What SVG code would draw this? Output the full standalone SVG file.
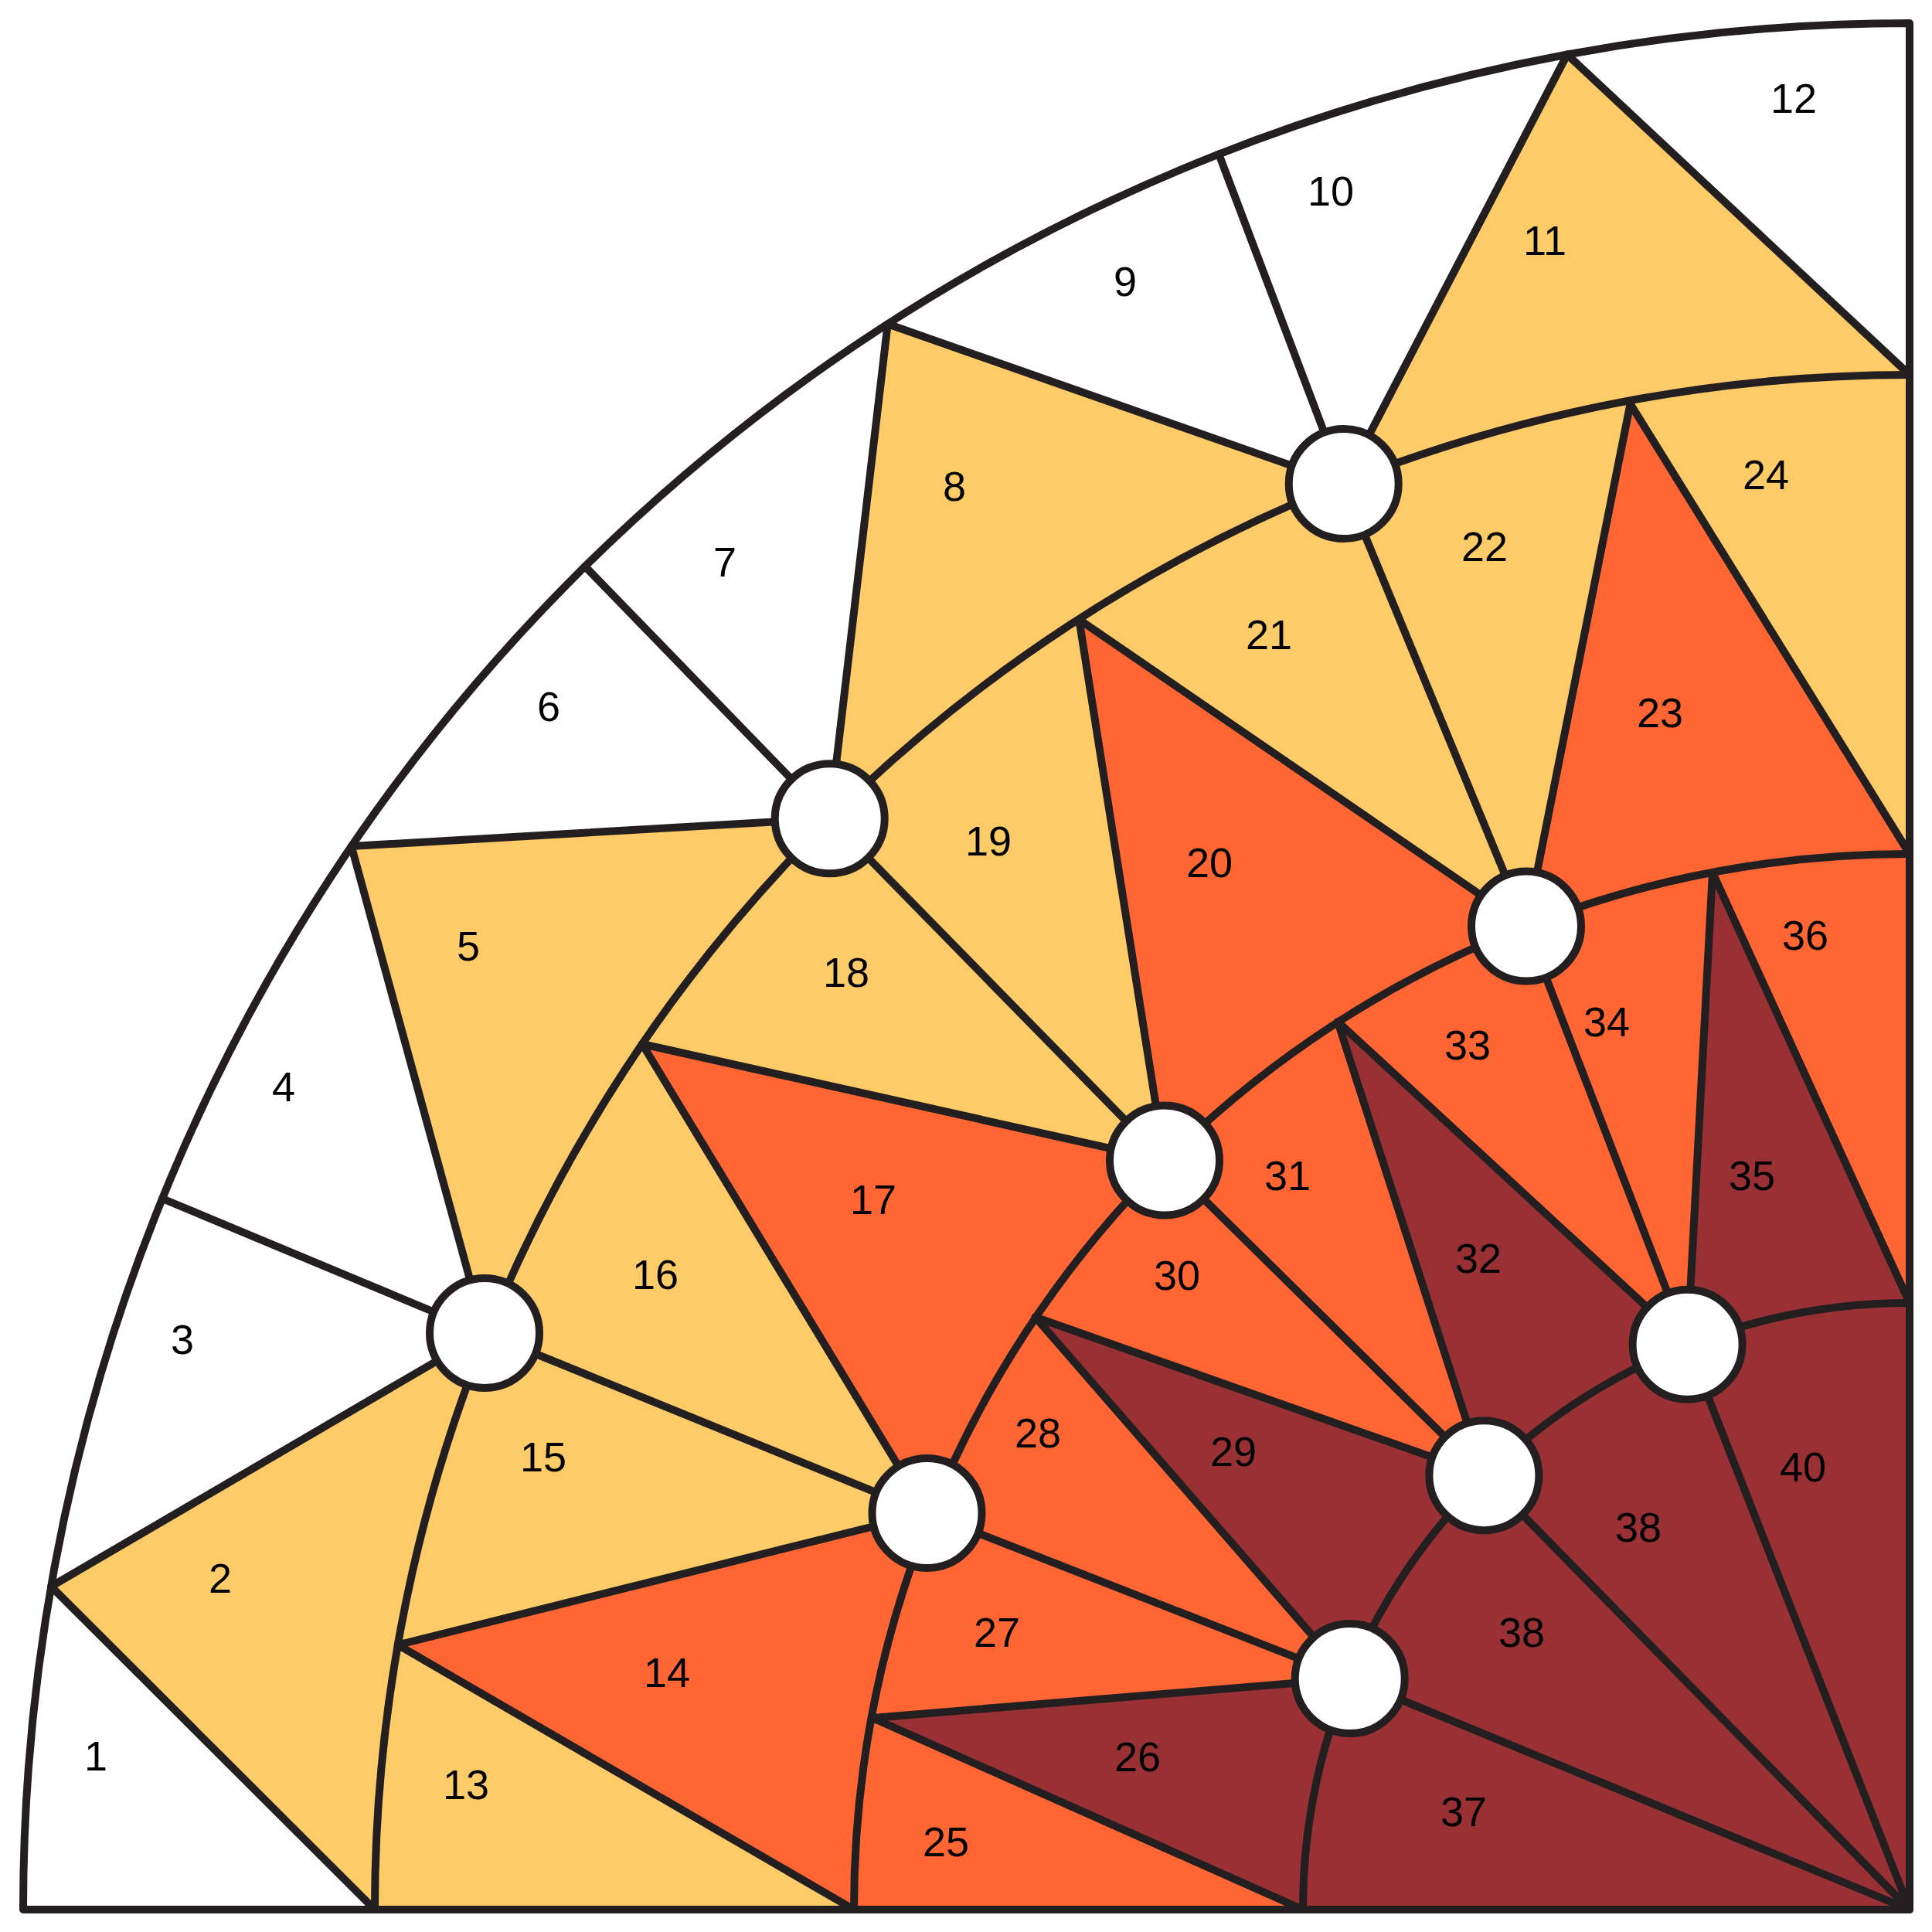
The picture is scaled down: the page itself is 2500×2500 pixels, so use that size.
<svg xmlns="http://www.w3.org/2000/svg" width="2500" height="2500" viewBox="0 0 2500 2500">
<style>
.w{fill:#FFFFFF}
.y{fill:#FDCB67}
.o{fill:#FF6633}
.d{fill:#993033}
.ln{fill:none;stroke:#231F20;stroke-width:10;stroke-linecap:round;stroke-linejoin:round}
.node{fill:#FFFFFF;stroke:#231F20;stroke-width:10}
.lb{font-family:"Liberation Sans",Arial,sans-serif;font-size:54px;fill:#000000;text-anchor:middle}
</style>
<rect width="2500" height="2500" fill="#FFFFFF"/>
<g id="regions">
<path id="r1" class="w" d="M30,2471 A2441,2441 0 0 1 66.1,2052.9 L485,2471 Z"/>
<path id="r2" class="y" d="M66.1,2052.9 L627,1725 A1986,1986 0 0 0 485,2471 Z"/>
<path id="r3" class="w" d="M66.1,2052.9 A2441,2441 0 0 1 210,1551 L627,1725 Z"/>
<path id="r4" class="w" d="M210,1551 A2441,2441 0 0 1 454.7,1095 L627,1725 Z"/>
<path id="r5" class="y" d="M454.7,1095 L627,1725 A1986,1986 0 0 1 1073.7,1059.3 Z"/>
<path id="r6" class="w" d="M454.7,1095 A2441,2441 0 0 1 757,732.9 L1073.7,1059.3 Z"/>
<path id="r7" class="w" d="M757,732.9 A2441,2441 0 0 1 1148.7,419.2 L1073.7,1059.3 Z"/>
<path id="r8" class="y" d="M1148.7,419.2 L1073.7,1059.3 A1986,1986 0 0 1 1738.7,626.1 Z"/>
<path id="r9" class="w" d="M1148.7,419.2 A2441,2441 0 0 1 1577.2,199.5 L1738.7,626.1 Z"/>
<path id="r10" class="w" d="M1577.2,199.5 A2441,2441 0 0 1 2027.9,70.6 L1738.7,626.1 Z"/>
<path id="r11" class="y" d="M2027.9,70.6 L1738.7,626.1 A1986,1986 0 0 1 2471,485 Z"/>
<path id="r12" class="w" d="M2027.9,70.6 A2441,2441 0 0 1 2471,30 L2471,485 Z"/>
<path id="r13" class="y" d="M485,2471 A1986,1986 0 0 1 514.8,2128.5 L1105,2471 Z"/>
<path id="r14" class="o" d="M514.8,2128.5 L1105,2471 A1366,1366 0 0 1 1199.5,1958 Z"/>
<path id="r15" class="y" d="M514.8,2128.5 L1199.5,1958 L627,1725 A1986,1986 0 0 0 514.8,2128.5 Z"/>
<path id="r16" class="y" d="M627,1725 L1199.5,1958 L831,1351 A1986,1986 0 0 0 627,1725 Z"/>
<path id="r17" class="o" d="M831,1351 L1199.5,1958 A1366,1366 0 0 1 1507,1501.6 Z"/>
<path id="r18" class="y" d="M831,1351 L1507,1501.6 L1073.7,1059.3 A1986,1986 0 0 0 831,1351 Z"/>
<path id="r19" class="y" d="M1073.7,1059.3 L1507,1501.6 L1396.3,801.6 A1986,1986 0 0 0 1073.7,1059.3 Z"/>
<path id="r20" class="o" d="M1396.3,801.6 L1507,1501.6 A1366,1366 0 0 1 1975,1198.6 Z"/>
<path id="r21" class="y" d="M1396.3,801.6 L1975,1198.6 L1738.7,626.1 A1986,1986 0 0 0 1396.3,801.6 Z"/>
<path id="r22" class="y" d="M1738.7,626.1 L1975,1198.6 L2109.6,522.6 A1986,1986 0 0 0 1738.7,626.1 Z"/>
<path id="r23" class="o" d="M2109.6,522.6 L1975,1198.6 A1366,1366 0 0 1 2471,1105 Z"/>
<path id="r24" class="y" d="M2109.6,522.6 L2471,1105 L2471,485 A1986,1986 0 0 0 2109.6,522.6 Z"/>
<path id="r25" class="o" d="M1105,2471 A1366,1366 0 0 1 1129,2223 L1686,2471 Z"/>
<path id="r26" class="d" d="M1129,2223 L1686,2471 A785,785 0 0 1 1746.7,2172.1 Z"/>
<path id="r27" class="o" d="M1129,2223 L1746.7,2172.1 L1199.5,1958 A1366,1366 0 0 0 1129,2223 Z"/>
<path id="r28" class="o" d="M1199.5,1958 L1746.7,2172.1 L1339.5,1704.3 A1366,1366 0 0 0 1199.5,1958 Z"/>
<path id="r29" class="d" d="M1339.5,1704.3 L1746.7,2172.1 A785,785 0 0 1 1920.4,1909.2 Z"/>
<path id="r30" class="o" d="M1339.5,1704.3 L1920.4,1909.2 L1507,1501.6 A1366,1366 0 0 0 1339.5,1704.3 Z"/>
<path id="r31" class="o" d="M1507,1501.6 L1920.4,1909.2 L1731,1322 A1366,1366 0 0 0 1507,1501.6 Z"/>
<path id="r32" class="d" d="M1731,1322 L1920.4,1909.2 A785,785 0 0 1 2183.6,1739.8 Z"/>
<path id="r33" class="o" d="M1731,1322 L2183.6,1739.8 L1975,1198.6 A1366,1366 0 0 0 1731,1322 Z"/>
<path id="r34" class="o" d="M1975,1198.6 L2183.6,1739.8 L2216,1129 A1366,1366 0 0 0 1975,1198.6 Z"/>
<path id="r35" class="d" d="M2216,1129 L2183.6,1739.8 A785,785 0 0 1 2471,1686 Z"/>
<path id="r36" class="o" d="M2216,1129 L2471,1686 L2471,1105 A1366,1366 0 0 0 2216,1129 Z"/>
<path id="r37-40" class="d" d="M1686,2471 A785,785 0 0 1 2471,1686 L2471,2471 Z"/>
</g>
<g id="connectors" class="ln">
<path d="M30,2471 A2441,2441 0 0 1 2471,30 L2471,2471 Z"/>
<path d="M485,2471 A1986,1986 0 0 1 2471,485"/>
<path d="M1105,2471 A1366,1366 0 0 1 2471,1105"/>
<path d="M1686,2471 A785,785 0 0 1 2471,1686"/>
<path d="M66.1,2052.9 L485,2471 M66.1,2052.9 L627,1725 M210,1551 L627,1725 M454.7,1095 L627,1725 M454.7,1095 L1073.7,1059.3 M757,732.9 L1073.7,1059.3 M1148.7,419.2 L1073.7,1059.3 M1148.7,419.2 L1738.7,626.1 M1577.2,199.5 L1738.7,626.1 M2027.9,70.6 L1738.7,626.1 M2027.9,70.6 L2471,485"/>
<path d="M514.8,2128.5 L1105,2471 M514.8,2128.5 L1199.5,1958 M627,1725 L1199.5,1958 M831,1351 L1199.5,1958 M831,1351 L1507,1501.6 M1073.7,1059.3 L1507,1501.6 M1396.3,801.6 L1507,1501.6 M1396.3,801.6 L1975,1198.6 M1738.7,626.1 L1975,1198.6 M2109.6,522.6 L1975,1198.6 M2109.6,522.6 L2471,1105"/>
<path d="M1129,2223 L1686,2471 M1129,2223 L1746.7,2172.1 M1199.5,1958 L1746.7,2172.1 M1339.5,1704.3 L1746.7,2172.1 M1339.5,1704.3 L1920.4,1909.2 M1507,1501.6 L1920.4,1909.2 M1731,1322 L1920.4,1909.2 M1731,1322 L2183.6,1739.8 M1975,1198.6 L2183.6,1739.8 M2216,1129 L2183.6,1739.8 M2216,1129 L2471,1686"/>
<path d="M1746.7,2172.1 L2471,2471 M1920.4,1909.2 L2471,2471 M2183.6,1739.8 L2471,2471"/>
</g>
<g id="nodes">
<g id="n1"><circle class="node" cx="627" cy="1725" r="71"/></g>
<g id="n2"><circle class="node" cx="1073.7" cy="1059.3" r="71"/></g>
<g id="n3"><circle class="node" cx="1738.7" cy="626.1" r="71"/></g>
<g id="n4"><circle class="node" cx="1199.5" cy="1958" r="71"/></g>
<g id="n5"><circle class="node" cx="1507" cy="1501.6" r="71"/></g>
<g id="n6"><circle class="node" cx="1975" cy="1198.6" r="71"/></g>
<g id="n7"><circle class="node" cx="1746.7" cy="2172.1" r="71"/></g>
<g id="n8"><circle class="node" cx="1920.4" cy="1909.2" r="71"/></g>
<g id="n9"><circle class="node" cx="2183.6" cy="1739.8" r="71"/></g>
</g>
<g id="labels" class="lb">
<text x="124" y="2291">1</text>
<text x="285" y="2061">2</text>
<text x="236" y="1752">3</text>
<text x="367" y="1425">4</text>
<text x="606" y="1243">5</text>
<text x="710" y="933">6</text>
<text x="938" y="746">7</text>
<text x="1235" y="648">8</text>
<text x="1456" y="383">9</text>
<text x="1722" y="266">10</text>
<text x="1999" y="330">11</text>
<text x="2321" y="146">12</text>
<text x="603" y="2328">13</text>
<text x="863" y="2183">14</text>
<text x="703" y="1904">15</text>
<text x="848" y="1668">16</text>
<text x="1130" y="1571">17</text>
<text x="1095" y="1277">18</text>
<text x="1279" y="1107">19</text>
<text x="1565" y="1135">20</text>
<text x="1642" y="840">21</text>
<text x="1921" y="726">22</text>
<text x="2148" y="941">23</text>
<text x="2285" y="633">24</text>
<text x="1224" y="2402">25</text>
<text x="1472" y="2292">26</text>
<text x="1290" y="2131">27</text>
<text x="1343" y="1873">28</text>
<text x="1596" y="1897">29</text>
<text x="1523" y="1669">30</text>
<text x="1666" y="1540">31</text>
<text x="1913" y="1647">32</text>
<text x="1899" y="1371">33</text>
<text x="2079" y="1341">34</text>
<text x="2267" y="1540">35</text>
<text x="2336" y="1229">36</text>
<text x="1894" y="2363">37</text>
<text x="1969" y="2131">38</text>
<text x="2120" y="1995">38</text>
<text x="2333" y="1917">40</text>
</g>
</svg>
